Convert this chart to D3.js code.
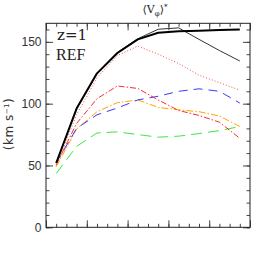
<!DOCTYPE html>
<html>
<head>
<meta charset="utf-8">
<script src="https://d3js.org/d3.v7.min.js"></script>
<style>
  body { margin: 0; background: #fff; }
</style>
</head>
<body>
<svg id="chart" width="273" height="273"></svg>
<script>
// radial bins (index positions on the x axis)
const xs = [1, 3, 5, 7, 9, 11, 13, 15, 17, 19];

// series values, km/s
const blackThick = [52, 96, 124.5, 141, 152, 157.3, 158.5, 159, 159.5, 160];
const blackThin  = [52, 96, 124.5, 141.5, 152.5, 160.2, 161.3, 152, 143, 134.5];
const redDot     = [50, 91, 121, 139, 146.5, 140, 132.5, 123, 117, 111];
const redDashDot = [50.5, 84, 104, 114.3, 112.3, 103, 94.5, 90.5, 85, 72];
const orangeDD   = [49, 79.5, 93.5, 100.8, 103, 97, 95, 93.5, 90, 81.5];
const blueDash   = [52, 80, 91, 96.5, 103, 106, 110, 112, 110, 100.5];
const greenDash  = [43.5, 65.5, 76.3, 77.2, 75, 72.9, 73.7, 75.8, 78.2, 81.5];

const yMajor = [0, 50, 100, 150];

const series = [
  { v: greenDash,  color: "#3ee63e", w: 1,   dash: "11,6" },
  { v: orangeDD,   color: "#ffa500", w: 1,   dash: "7,2,1.5,2" },
  { v: blueDash,   color: "#3a3aff", w: 1,   dash: "9,6" },
  { v: redDashDot, color: "#ff2a2a", w: 1,   dash: "6,2,1.5,2" },
  { v: redDot,     color: "#f05050", w: 1,   dash: "1,2" },
  { v: blackThin,  color: "#333",    w: 1,   dash: null },
  { v: blackThick, color: "#000",    w: 2,   dash: null }
];

const mLeft = 46, mRight = 250, mTop = 23.3, mBottom = 227.3;

const x = d3.scaleLinear().domain([0, 20]).range([mLeft, mRight]);
const y = d3.scaleLinear().domain([0, 165]).range([mBottom, mTop]);

const svg = d3.select("#chart");

// lines
const line = d3.line()
  .x((d, i) => x(xs[i]))
  .y(d => y(d));

series.forEach(s => {
  svg.append("path")
    .datum(s.v)
    .attr("fill", "none")
    .attr("stroke", s.color)
    .attr("stroke-width", s.w)
    .attr("stroke-dasharray", s.dash)
    .attr("stroke-linejoin", "round")
    .attr("d", line);
});

// axes: ticks point inward on all four sides
function addAxis(axis, tx, ty) {
  const g = svg.append("g")
    .attr("transform", `translate(${tx},${ty})`)
    .call(axis);
  g.select(".domain").remove();
  g.selectAll("line").attr("stroke", "#444");
  return g;
}

const xMinor = d3.range(0, 20.01, 1);
const xMaj = d3.range(0, 20.01, 4);
const yMinor = d3.range(0, 161, 10);

addAxis(d3.axisBottom(x).tickValues(xMinor).tickSize(-3.5).tickFormat(""), 0, mBottom);
addAxis(d3.axisBottom(x).tickValues(xMaj).tickSize(-7).tickFormat(""), 0, mBottom);
addAxis(d3.axisTop(x).tickValues(xMinor).tickSize(-3.5).tickFormat(""), 0, mTop);
addAxis(d3.axisTop(x).tickValues(xMaj).tickSize(-7).tickFormat(""), 0, mTop);

addAxis(d3.axisLeft(y).tickValues(yMinor).tickSize(-3.5).tickFormat(""), mLeft, 0);
const yl = addAxis(d3.axisLeft(y).tickValues(yMajor).tickSize(-7).tickPadding(4.5), mLeft, 0);
yl.selectAll("text")
  .attr("font-family", "Liberation Sans Narrow, Liberation Sans, sans-serif")
  .attr("font-size", 12)
  .attr("fill", "#333");
addAxis(d3.axisRight(y).tickValues(yMinor).tickSize(-3.5).tickFormat(""), mRight, 0);
addAxis(d3.axisRight(y).tickValues(yMajor).tickSize(-7).tickFormat(""), mRight, 0);

// frame
svg.append("rect")
  .attr("x", mLeft).attr("y", mTop)
  .attr("width", mRight - mLeft).attr("height", mBottom - mTop)
  .attr("fill", "none")
  .attr("stroke", "#222")
  .attr("stroke-width", 1);

// labels
svg.append("text")
  .attr("x", 57).attr("y", 40)
  .attr("font-family", "DejaVu Serif, serif")
  .attr("font-size", 15)
  .attr("fill", "#222")
  .text("z=1");

svg.append("text")
  .attr("x", 56).attr("y", 59.5)
  .attr("font-family", "Liberation Serif, serif")
  .attr("font-size", 16)
  .attr("fill", "#222")
  .text("REF");

const title = svg.append("text")
  .attr("x", 155).attr("y", 13)
  .attr("text-anchor", "middle")
  .attr("font-family", "DejaVu Serif, serif")
  .attr("font-size", 11)
  .attr("fill", "#222");
title.append("tspan").text("\u27E8V");
title.append("tspan").attr("font-size", 7).attr("dy", 3).text("\u03C6");
title.append("tspan").attr("dy", -3).text("\u27E9");
title.append("tspan").attr("font-size", 7).attr("dy", -4).text("*");

const ylab = svg.append("text")
  .attr("transform", "translate(13,124) rotate(-90)")
  .attr("text-anchor", "middle")
  .attr("font-family", "DejaVu Sans, sans-serif")
  .attr("font-size", 12)
  .attr("letter-spacing", 0.5)
  .attr("fill", "#333");
ylab.append("tspan").text("(km s");
ylab.append("tspan").attr("font-size", 7).attr("dy", -4.5).text("\u22121");
ylab.append("tspan").attr("dy", 4.5).text(")");
</script>
</body>
</html>
